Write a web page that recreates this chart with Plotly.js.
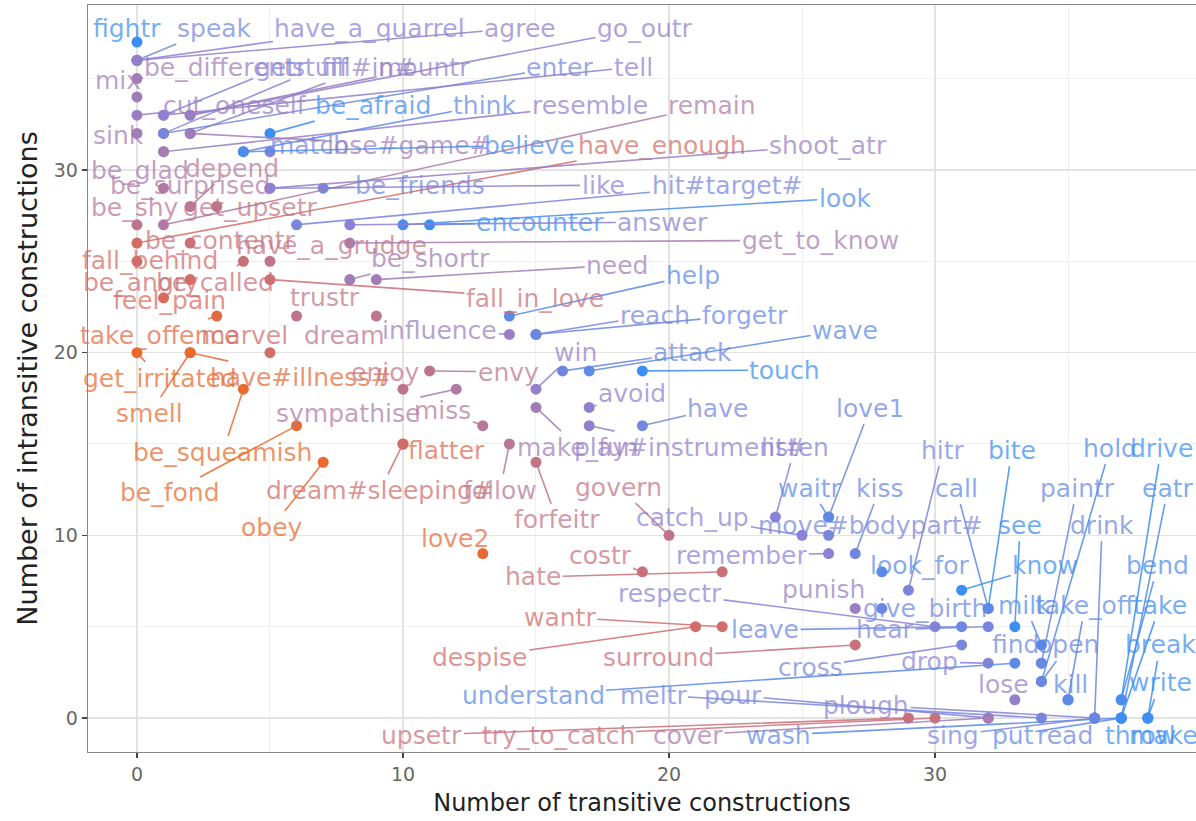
<!DOCTYPE html>
<html><head><meta charset="utf-8">
<script src="https://cdn.plot.ly/plotly-3.0.1.min.js"></script>
<style>html,body{margin:0;padding:0;background:#fff}#chart{width:1196px;height:821px}</style>
</head><body><div id="chart"></div>
<script>
const verbs = [
 "fightr","speak","have_a_quarrel","agree","go_outr","mix","be_different","getr","stuff","fill#in#",
 "mountr","enter","tell","cut_oneself","be_afraid","think","resemble","remain","sink","match",
 "lose#game#","believe","have_enough","shoot_atr","be_glad","depend","be_surprised","be_friends","like","hit#target#",
 "look","be_shy","get_upsetr","encounter","answer","be_contentr","have_a_grudge","get_to_know","fall_behind","be_shortr",
 "need","be_angry","be_called","help","feel_pain","trustr","fall_in_love","reach","forgetr","take_offence",
 "marvel","dream","influence","wave","win","attack","get_irritated","have#illness#","enjoy","envy",
 "touch","avoid","smell","sympathise","miss","have","love1","be_squeamish","flatter","make_fun",
 "play#instrument#","listen","hitr","bite","hold","drive","be_fond","dream#sleeping#","follow","govern",
 "waitr","kiss","call","paintr","eatr","forfeitr","catch_up","move#bodypart#","see","drink",
 "obey","love2","costr","remember","look_for","know","bend","hate","punish","respectr",
 "wantr","give_birth","milk","take_off","take","leave","hear","despise","surround","find",
 "open","break","cross","drop","understand","meltr","pour","lose","kill","write",
 "plough","upsetr","try_to_catch","cover","wash","sing","put","read","throw","make"
];
const transitive = [
 0,0,0,0,2,0,0,1,1,2,
 2,1,1,0,5,4,1,1,0,5,
 2,4,0,5,1,2,1,7,5,6,
 10,0,3,11,8,2,5,8,0,8,
 9,2,4,14,1,6,5,15,15,3,
 5,9,14,17,15,16,0,2,10,11,
 19,17,2,12,13,19,26,4,10,15,
 17,24,29,32,34,37,6,10,14,20,
 26,27,32,34,37,15,25,26,33,36,
 7,13,19,26,28,31,37,22,27,30,
 22,28,34,35,37,31,32,21,27,34,
 34,38,31,32,33,34,32,33,35,38,
 36,29,30,32,37,36,37,36,37,38
];
const intransitive = [
 37,36,36,36,33,34,35,33,32,32,
 33,32,33,33,32,31,31,27,32,31,
 32,31,26,29,31,28,29,29,29,27,
 27,27,28,27,27,26,25,26,25,24,
 24,24,25,22,23,22,24,21,21,22,
 20,22,21,19,18,19,20,20,18,19,
 19,17,20,18,16,16,11,18,15,17,
 16,11,7,6,2,1,16,15,15,10,
 11,9,6,3,0,14,10,10,5,0,
 14,9,8,9,8,7,1,8,6,5,
 5,6,4,1,0,5,5,5,4,3,
 2,0,4,3,3,0,0,1,1,0,
 0,0,0,0,0,0,0,0,0,0
];
// colour value of each verb (0 = orange end of the scale, 1 = blue end)
const shade = [
 1.0,0.82,0.75,0.7,0.7,0.6,0.6,0.8,0.75,0.7,
 0.65,0.82,0.72,0.65,1.0,0.88,0.7,0.5,0.6,0.8,
 0.6,0.95,0.28,0.65,0.55,0.45,0.5,0.82,0.75,0.8,
 0.95,0.42,0.4,1.0,0.75,0.35,0.4,0.55,0.3,0.6,
 0.6,0.3,0.35,0.9,0.25,0.4,0.35,0.8,0.85,0.15,
 0.3,0.42,0.65,0.9,0.7,0.85,0.03,0.1,0.42,0.42,
 1.0,0.7,0.05,0.5,0.45,0.82,0.85,0.05,0.2,0.6,
 0.7,0.75,0.8,1.0,0.95,1.0,0.05,0.3,0.45,0.4,
 0.9,0.85,0.9,0.85,0.95,0.4,0.75,0.8,1.0,0.85,
 0.05,0.1,0.35,0.75,0.9,1.0,0.95,0.35,0.65,0.75,
 0.3,0.85,0.95,0.9,1.0,0.85,0.8,0.3,0.35,0.85,
 0.85,1.0,0.8,0.75,0.9,0.8,0.8,0.7,0.9,1.0,
 0.75,0.35,0.35,0.55,0.9,0.8,0.9,0.85,1.0,1.0
];
// repelled label placement (data units)
const labelX = [
 -0.38,2.93,8.76,14.4,19.1,-0.71,3.1,5.4,6.9,8.7,
 10.8,15.9,18.65,3.7,8.87,13.08,17.03,21.62,-0.71,6.5,
 10.2,14.77,19.74,25.98,0.11,3.57,1.99,10.64,17.52,22.18,
 26.62,-0.08,4.25,15.15,19.77,3.12,7.3,25.68,0.49,11.02,
 18.05,0.15,2.93,20.9,1.24,7.07,14.96,19.47,22.86,0.86,
 4.06,7.82,11.39,26.62,16.47,20.9,0.86,6.13,9.32,13.95,
 24.36,18.61,0.49,7.93,11.5,21.84,27.56,3.23,11.65,16.58,
 20.79,24.74,30.3,32.89,36.58,38.5,1.24,9.14,13.65,18.12,
 25.3,27.93,30.79,35.34,38.76,15.79,20.9,27.56,33.2,36.28,
 5.08,11.95,17.41,22.74,29.44,34.14,38.38,14.89,25.79,20.04,
 15.9,29.62,33.38,35.64,38.46,23.61,28.12,12.89,19.59,33.01,
 35.0,38.46,25.3,29.81,14.89,19.4,22.41,32.56,35.08,38.46,
 27.41,10.71,15.83,20.71,24.1,30.68,32.93,34.89,37.71,38.57
];
const labelY = [
 37.77,37.77,37.77,37.77,37.77,34.92,35.63,35.63,35.63,35.63,
 35.63,35.63,35.63,33.55,33.55,33.55,33.55,33.55,31.9,31.36,
 31.36,31.36,31.36,31.36,29.99,30.1,29.17,29.17,29.17,29.17,
 28.46,27.97,27.97,27.15,27.15,26.16,25.89,26.16,25.07,25.18,
 24.79,23.86,23.86,24.25,22.88,23.04,22.99,22.06,22.06,20.96,
 20.96,20.96,21.24,21.24,20.03,20.03,18.61,18.66,18.94,18.94,
 19.05,17.79,16.69,16.69,16.86,16.97,16.97,14.56,14.67,14.83,
 14.83,14.83,14.67,14.67,14.78,14.78,12.32,12.48,12.48,12.64,
 12.59,12.59,12.59,12.59,12.59,10.84,11.0,10.56,10.56,10.56,
 10.45,9.85,8.92,8.92,8.37,8.37,8.37,7.72,7.01,6.84,
 5.53,6.02,6.18,6.18,6.18,4.82,4.82,3.34,3.34,4.0,
 4.0,4.0,2.79,3.07,1.26,1.26,1.26,1.81,1.81,1.92,
 0.71,-0.93,-0.93,-0.93,-0.93,-0.93,-0.93,-0.93,-0.93,-0.93
];
const xTicks = [0,10,20,30];
const yTicks = [0,10,20,30];

const scaleStops = [[0,'#ee6a22'],[0.25,'#d96a5c'],[0.5,'#b07aa4'],[0.75,'#8a82d6'],[1,'#3c8ff2']];
function hexRgb(h){return [parseInt(h.slice(1,3),16),parseInt(h.slice(3,5),16),parseInt(h.slice(5,7),16)];}
function colorAt(t){
  for(let i=1;i<scaleStops.length;i++){
    if(t<=scaleStops[i][0]){
      const a=scaleStops[i-1],b=scaleStops[i];
      const f=(t-a[0])/(b[0]-a[0]);
      const ca=hexRgb(a[1]),cb=hexRgb(b[1]);
      return ca.map((v,k)=>Math.round(v+(cb[k]-v)*f));
    }
  }
  return hexRgb(scaleStops[scaleStops.length-1][1]);
}
const rgba=(c,a)=>`rgba(${c[0]},${c[1]},${c[2]},${a})`;
const cols = shade.map(colorAt);

const FONT = 'DejaVu Sans, Liberation Sans, sans-serif';
const annotations = verbs.map((v,i)=>({
  x: transitive[i], y: intransitive[i], xref:'x', yref:'y',
  ax: labelX[i], ay: labelY[i], axref:'x', ayref:'y',
  text: v, showarrow: true, arrowhead: 0, arrowwidth: 1.6,
  arrowcolor: rgba(cols[i],0.85), standoff: 4,
  font: {family: FONT, size: 25, color: rgba(cols[i],0.72)}
}));

const trace = {
  type:'scatter', mode:'markers',
  x: transitive, y: intransitive, text: verbs,
  marker:{size:11, color: cols.map(c=>rgba(c,1))},
  hoverinfo:'text'
};

const layout = {
  width:1196, height:821,
  margin:{l:88, r:0, t:5, b:69},
  paper_bgcolor:'#ffffff', plot_bgcolor:'#ffffff',
  showlegend:false,
  font:{family:FONT},
  xaxis:{
    range:[-1.84,39.81], tickmode:'array', tickvals:xTicks,
    ticks:'outside', ticklen:5, tickwidth:1.2, tickcolor:'#444',
    tickfont:{family:FONT, size:19, color:'#666'},
    showgrid:true, gridcolor:'#e3e3e3', gridwidth:1.3,
    minor:{tickvals:[5,15,25,35], showgrid:true, gridcolor:'#f1f1f1', gridwidth:1, ticks:''},
    zeroline:false, showline:true, mirror:true, linecolor:'#888', linewidth:1.3,
    automargin:false,
    title:{text:'Number of transitive constructions', standoff:10, font:{family:FONT, size:24, color:'#222'}}
  },
  yaxis:{
    range:[-1.86,39.03], tickmode:'array', tickvals:yTicks,
    ticks:'outside', ticklen:5, tickwidth:1.2, tickcolor:'#444',
    tickfont:{family:FONT, size:19, color:'#666'},
    showgrid:true, gridcolor:'#e3e3e3', gridwidth:1.3,
    minor:{tickvals:[5,15,25,35], showgrid:true, gridcolor:'#f1f1f1', gridwidth:1, ticks:''},
    zeroline:false, showline:true, mirror:true, linecolor:'#888', linewidth:1.3,
    automargin:false,
    title:{text:'Number of intransitive constructions', standoff:8, font:{family:FONT, size:27, color:'#222'}}
  },
  annotations: annotations
};
Plotly.newPlot('chart',[trace],layout,{displayModeBar:false, staticPlot:true});
</script>
</body></html>
